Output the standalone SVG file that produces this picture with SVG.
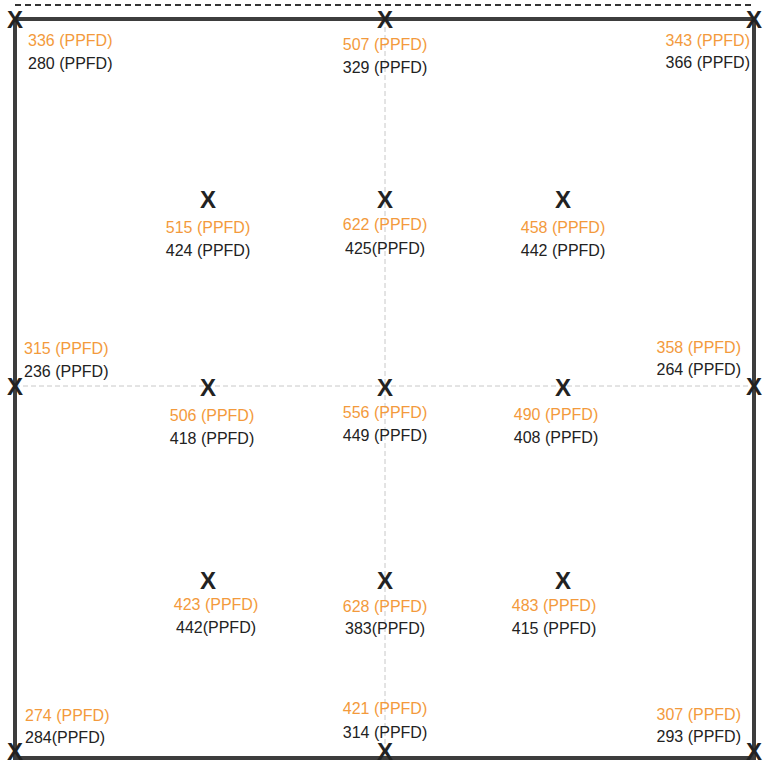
<svg xmlns="http://www.w3.org/2000/svg" width="767" height="761" viewBox="0 0 767 761">
<style>
.frame{stroke:#3d3d3d;stroke-width:4;fill:none}
.topdash{stroke:#333;stroke-width:2;stroke-dasharray:6 4;fill:none}
.grid{stroke:#c8c8c8;stroke-width:1;stroke-dasharray:5 3;fill:none}
.x{font-family:"Liberation Sans",Arial,sans-serif;font-weight:bold;font-size:24px;fill:#222;text-anchor:middle}
.o{font-family:"Liberation Sans",Arial,sans-serif;font-size:16px;fill:#f39a3c}
.k{font-family:"Liberation Sans",Arial,sans-serif;font-size:16px;fill:#222}
.m{text-anchor:middle}
.e{text-anchor:end}
</style>
<rect width="767" height="761" fill="#fff"/>
<g id="connectors">
<line class="grid" x1="385" y1="19" x2="385" y2="758"/>
<line class="grid" x1="15" y1="386" x2="754" y2="386"/>
<line class="topdash" x1="15" y1="5" x2="754" y2="5"/>
<path class="frame" d="M15 19 H754 V758 H15 Z"/>
</g>
<g id="n-tl"><text class="x" x="15" y="28">X</text><text class="o" x="28" y="46">336 (PPFD)</text><text class="k" x="28" y="69">280 (PPFD)</text></g>
<g id="n-tc"><text class="x" x="385" y="28">X</text><text class="o m" x="385" y="50">507 (PPFD)</text><text class="k m" x="385" y="73">329 (PPFD)</text></g>
<g id="n-tr"><text class="x" x="754" y="28">X</text><text class="o e" x="750" y="46">343 (PPFD)</text><text class="k e" x="750" y="68">366 (PPFD)</text></g>
<g id="n-r2a"><text class="x" x="208" y="208">X</text><text class="o m" x="208" y="233">515 (PPFD)</text><text class="k m" x="208" y="256">424 (PPFD)</text></g>
<g id="n-r2b"><text class="x" x="385" y="208">X</text><text class="o m" x="385" y="230">622 (PPFD)</text><text class="k m" x="385" y="254">425(PPFD)</text></g>
<g id="n-r2c"><text class="x" x="563" y="208">X</text><text class="o m" x="563" y="233">458 (PPFD)</text><text class="k m" x="563" y="256">442 (PPFD)</text></g>
<g id="n-ml"><text class="x" x="15" y="395">X</text><text class="o" x="24" y="354">315 (PPFD)</text><text class="k" x="24" y="377">236 (PPFD)</text></g>
<g id="n-mr"><text class="x" x="754" y="395">X</text><text class="o e" x="741" y="353">358 (PPFD)</text><text class="k e" x="741" y="375">264 (PPFD)</text></g>
<g id="n-r3a"><text class="x" x="208" y="396">X</text><text class="o m" x="212" y="421">506 (PPFD)</text><text class="k m" x="212" y="444">418 (PPFD)</text></g>
<g id="n-r3b"><text class="x" x="385" y="396">X</text><text class="o m" x="385" y="418">556 (PPFD)</text><text class="k m" x="385" y="441">449 (PPFD)</text></g>
<g id="n-r3c"><text class="x" x="563" y="396">X</text><text class="o m" x="556" y="420">490 (PPFD)</text><text class="k m" x="556" y="443">408 (PPFD)</text></g>
<g id="n-r4a"><text class="x" x="208" y="589">X</text><text class="o m" x="216" y="610">423 (PPFD)</text><text class="k m" x="216" y="633">442(PPFD)</text></g>
<g id="n-r4b"><text class="x" x="385" y="589">X</text><text class="o m" x="385" y="612">628 (PPFD)</text><text class="k m" x="385" y="634">383(PPFD)</text></g>
<g id="n-r4c"><text class="x" x="563" y="589">X</text><text class="o m" x="554" y="611">483 (PPFD)</text><text class="k m" x="554" y="634">415 (PPFD)</text></g>
<g id="n-bl"><text class="x" x="15" y="760">X</text><text class="o" x="25" y="721">274 (PPFD)</text><text class="k" x="25" y="743">284(PPFD)</text></g>
<g id="n-bc"><text class="x" x="385" y="760">X</text><text class="o m" x="385" y="714">421 (PPFD)</text><text class="k m" x="385" y="738">314 (PPFD)</text></g>
<g id="n-br"><text class="x" x="754" y="760">X</text><text class="o e" x="741" y="720">307 (PPFD)</text><text class="k e" x="741" y="742">293 (PPFD)</text></g>
</svg>
